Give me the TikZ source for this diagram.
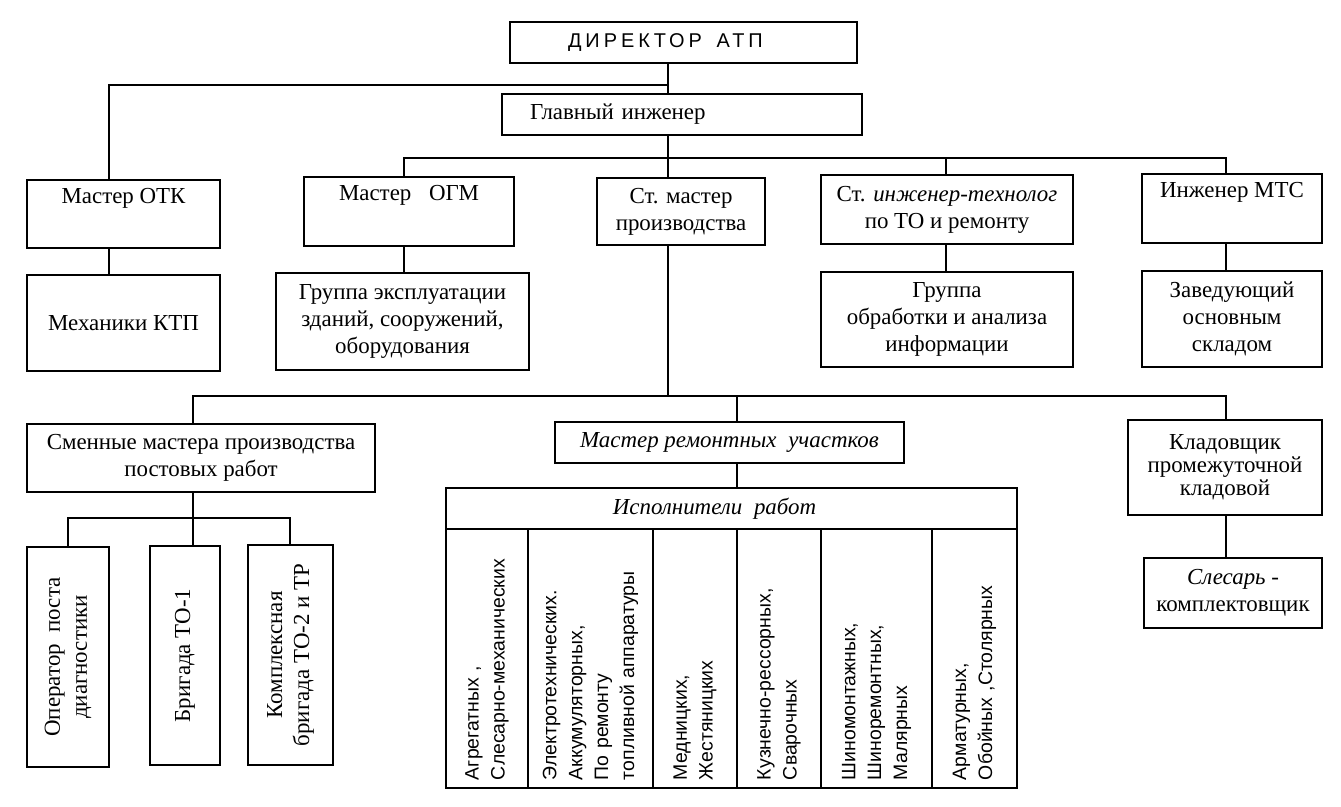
\documentclass[tikz,border=0pt]{standalone}
\usepackage{fontspec}
\setmainfont{Liberation Serif}
\setsansfont{Liberation Sans}
\newfontfamily\dirfont[LetterSpace=20]{Liberation Sans}

\begin{document}
\begin{tikzpicture}[x=1bp,y=-1bp,
  box/.style={draw,line width=1.5bp,inner sep=2bp,align=center,font=\fontsize{23}{27}\selectfont},
  vbox/.style={box,rotate=90},
  job/.style={draw,line width=1.5bp,rotate=90,align=left,inner xsep=8bp,inner ysep=2bp,
    text width=243bp,minimum width=259bp,minimum height=#1,font=\sffamily\fontsize{19.5}{26}\selectfont},
  link/.style={line width=1.5bp}]
\useasboundingbox (0,0) rectangle (1341,806);

% top levels
\node[box,minimum width=347bp,minimum height=41bp,inner xsep=58bp,text width=231bp,align=left,
  font=\dirfont\fontsize{20}{20}\selectfont] (dir) at (683.5,42.5) {ДИРЕКТОР\hspace{8bp} АТП};
\node[box,minimum height=41bp,inner xsep=28bp,text width=304bp,align=left] (glav) at (682,114.5) {Главный инженер};

% second row
\node[box,minimum width=193bp,minimum height=68bp] (otk) at (123.5,214) {Мастер ОТК\\[2bp] \strut};
\node[box,minimum width=210bp,minimum height=69bp] (ogm) at (409,211.5) {Мастер\hspace{12bp} ОГМ\\[2bp] \strut};
\node[box,minimum width=168bp,minimum height=67bp] (stm) at (681,211.5) {Ст. мастер\\производства};
\node[box,minimum width=252bp,minimum height=69bp] (sit) at (947,209.5) {Ст. \textit{инженер-технолог}\\по ТО и ремонту};
\node[box,minimum width=180bp,minimum height=69bp] (mts) at (1232,208.5) {Инженер МТС\\[2bp] \strut};

% third row
\node[box,minimum width=193bp,minimum height=96bp] (ktp) at (123.5,323) {Механики КТП};
\node[box,minimum width=253bp,minimum height=97bp] (grp) at (402.5,321.5) {Группа эксплуатации\\зданий, сооружений,\\оборудования};
\node[box,minimum width=252bp,minimum height=95bp] (obr) at (947,319.5) {Группа\\обработки и анализа\\информации};
\node[box,minimum width=180bp,minimum height=96bp] (zav) at (1232,319) {Заведующий\\основным\\складом};

% production branch
\node[box,minimum width=348bp,minimum height=68bp] (smm) at (201,458) {Сменные мастера производства\\постовых работ};
\node[box,minimum width=349bp,minimum height=41bp] (mru) at (729.5,442.5) {\textit{Мастер ремонтных\hspace{6bp} участков}};
\node[box,minimum width=194bp,minimum height=95bp,font=\fontsize{23}{23}\selectfont] (klad) at (1225,467.5) {Кладовщик\\промежуточной\\кладовой};
\node[box,minimum width=178bp,minimum height=70bp] (sles) at (1233,593) {\textit{Слесарь -}\\комплектовщик};

% post brigades (rotated)
\node[vbox,minimum width=220bp,minimum height=82bp] (op) at (68,657) {Оператор\hspace{6bp} поста\\диагностики};
\node[vbox,minimum width=219bp,minimum height=70bp] (bt) at (185,655.5) {Бригада ТО-1};
\node[vbox,minimum width=220bp,minimum height=85bp] (kb) at (290.5,655) {Комплексная\\бригада ТО-2 и ТР};

% executors table
\node[box,minimum width=571bp,minimum height=41bp] (isp) at (731.5,508.5) {\textit{Исполнители\hspace{6bp} работ}\hspace{34bp}};
\node[job=82bp] (j1) at (487,658.5) {Агрегатных ,\\Слесарно-механических};
\node[job=125bp] (j2) at (590.5,658.5) {Электротехнических.\\Аккумуляторных,\\По ремонту\\топливной аппаратуры};
\node[job=84bp] (j3) at (695,658.5) {Медницких,\\Жестяницких};
\node[job=84bp] (j4) at (779,658.5) {Кузнечно-рессорных,\\Сварочных};
\node[job=111bp] (j5) at (876.5,658.5) {Шиномонтажных,\\Шиноремонтных,\\Малярных};
\node[job=85bp] (j6) at (974.5,658.5) {Арматурных,\\Обойных ,Столярных};

% trunk lines
\coordinate (xA) at (109,0);
\coordinate (xB) at (404,0);
\coordinate (xC) at (668,0);
\coordinate (xD) at (946,0);
\coordinate (xE) at (1226,0);
\coordinate (xF) at (193,0);
\coordinate (xG) at (737,0);
\coordinate (xJ) at (290,0);
\coordinate (t1) at (668,85);
\coordinate (t2) at (668,158);
\coordinate (t3) at (668,396);
\coordinate (t4) at (193,518);

\draw[link] (dir.south -| xC) -- (glav.north -| xC);
\draw[link] (t1) -| (otk.north -| xA);
\draw[link] (glav.south -| xC) -- (stm.north -| xC);
\draw[link] (ogm.north -| xB) |- (t2) -| (mts.north -| xE);
\draw[link] (t2 -| xD) -- (sit.north -| xD);
\draw[link] (otk.south -| xA) -- (ktp.north -| xA);
\draw[link] (ogm.south -| xB) -- (grp.north -| xB);
\draw[link] (sit.south -| xD) -- (obr.north -| xD);
\draw[link] (mts.south -| xE) -- (zav.north -| xE);
\draw[link] (stm.south -| xC) -- (t3);
\draw[link] (smm.north -| xF) |- (t3) -| (klad.north -| xE);
\draw[link] (t3 -| xG) -- (mru.north -| xG);
\draw[link] (mru.south -| xG) -- (isp.north -| xG);
\draw[link] (klad.south -| xE) -- (sles.north -| xE);
\draw[link] (smm.south -| xF) -- (t4);
\draw[link] (op.east) |- (t4) -| (kb.east -| xJ);
\draw[link] (t4) -- (bt.east -| t4);
\end{tikzpicture}
\end{document}
